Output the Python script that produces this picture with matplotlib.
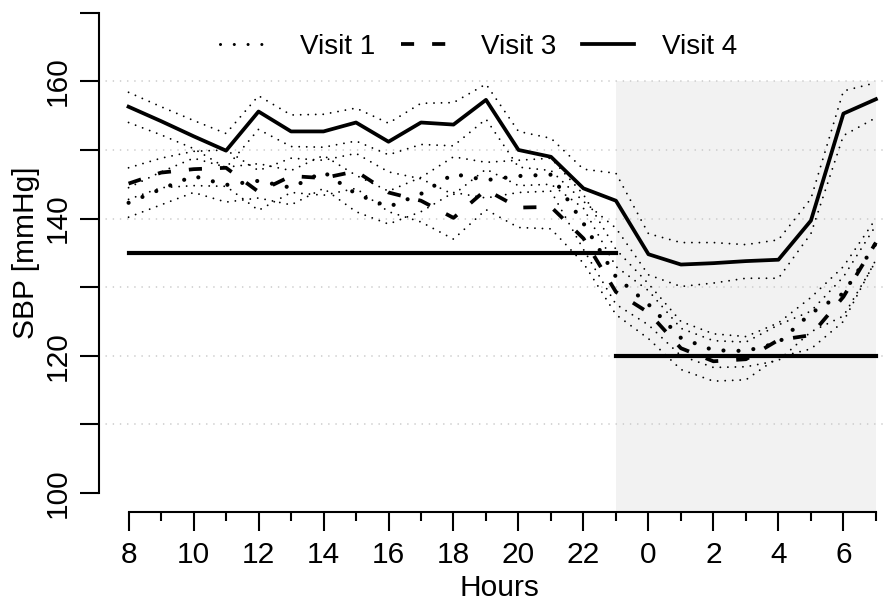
import matplotlib
matplotlib.use("Agg")
import matplotlib.pyplot as plt
from matplotlib.lines import Line2D

# hours 8..31 (24 = midnight)
hours = list(range(8, 32))
major_hours = list(range(8, 31, 2))
major_labels = ["8", "10", "12", "14", "16", "18", "20", "22", "0", "2", "4", "6"]
minor_hours = list(range(9, 32, 2))
ytick_values = list(range(100, 171, 10))
ytick_labels = ["100", "", "120", "", "140", "", "160", ""]
grid_levels = [110, 120, 130, 140, 150, 160]

night_start, night_end, shade_top = 23, 31, 160
day_target, night_target = 135, 120

v1_mean = [142.3, 144.3, 146.2, 144.9, 145.5, 144.5, 146.8, 143.6, 141.7, 143.6, 146.5, 145.6,
           146.2, 146.4, 139.3, 131.5, 127.5, 122.6, 120.8, 120.7, 121.9, 126.2, 129.1, 136.4]
v1_upper = [144.5, 146.8, 148.8, 147.5, 148.0, 147.0, 149.2, 146.3, 144.0, 146.0, 149.0, 148.2,
            148.5, 148.8, 143.5, 135.5, 130.5, 125.0, 123.2, 122.8, 124.8, 128.5, 133.0, 140.0]
v1_lower = [140.2, 142.0, 143.8, 142.4, 143.0, 142.0, 144.4, 141.0, 139.2, 141.0, 143.8, 143.0,
            143.8, 144.0, 135.5, 127.5, 124.5, 120.0, 118.3, 118.4, 119.3, 123.5, 125.8, 133.8]

v3_mean = [145.1, 146.7, 147.2, 147.4, 143.9, 146.2, 145.9, 146.9, 143.8, 142.6, 140.1, 144.2,
           141.6, 141.7, 137.1, 129.3, 126.3, 121.1, 119.2, 119.5, 122.3, 123.0, 128.6, 136.5]
v3_upper = [147.4, 148.8, 149.8, 150.0, 147.0, 148.8, 148.5, 149.5, 146.8, 145.8, 143.5, 147.2,
            144.8, 145.0, 141.5, 133.0, 129.5, 124.0, 122.2, 122.0, 124.5, 126.5, 131.5, 139.0]
v3_lower = [142.8, 144.5, 144.8, 144.7, 141.2, 143.8, 143.4, 144.4, 141.0, 139.5, 137.0, 141.3,
            138.7, 138.5, 133.5, 126.0, 122.5, 118.0, 116.3, 116.5, 119.8, 121.0, 125.0, 134.0]

v4_mean = [156.3, 154.2, 152.0, 149.9, 155.6, 152.7, 152.7, 154.0, 151.2, 154.0, 153.7, 157.3,
           150.0, 149.0, 144.4, 142.6, 134.8, 133.3, 133.5, 133.8, 134.0, 139.7, 155.3, 157.4]
v4_upper = [158.4, 156.3, 154.3, 152.4, 157.9, 155.1, 155.2, 156.1, 153.9, 156.8, 156.9, 159.6,
            152.7, 151.7, 147.2, 146.6, 137.8, 136.5, 136.5, 136.2, 136.9, 142.9, 158.6, 159.8]
v4_lower = [154.0, 152.2, 150.2, 147.4, 153.0, 150.5, 150.4, 151.3, 149.3, 150.8, 150.6, 154.5,
            147.5, 147.0, 142.5, 138.6, 131.8, 130.1, 130.6, 131.3, 131.3, 137.8, 152.1, 154.7]

plt.rcParams["font.family"] = ["Liberation Sans", "DejaVu Sans"]

fig = plt.figure(figsize=(8.9, 6.08), dpi=100)
ax = fig.add_axes([99 / 890, 96 / 608, 786 / 890, 502 / 608])
ax.set_xlim(7.09, 31.28)
ax.set_ylim(97.23, 170.4)

# night shading + dotted grid
ax.fill_between([night_start, night_end], ax.get_ylim()[0], shade_top,
                color="#f2f2f2", lw=0, zorder=0)
for g in grid_levels:
    ax.axhline(g, color="#c8c8c8", lw=1.2, ls=(0, (0.01, 4.3)),
               dash_capstyle="round", zorder=1)

ci_style = dict(color="black", lw=1.35, ls=(0, (0.01, 4.0)), dash_capstyle="round", zorder=2)
for band in (v1_upper, v1_lower, v3_upper, v3_lower, v4_upper, v4_lower):
    ax.plot(hours, band, **ci_style)

s1 = dict(color="black", lw=3, ls=(0, (0.01, 3.6)), dash_capstyle="round")
s3 = dict(color="black", lw=2.7, ls=(0, (3.5, 4.8)), dash_capstyle="butt")
s4 = dict(color="black", lw=2.7, ls="-")
ax.plot(hours, v1_mean, zorder=3, **s1)
ax.plot(hours, v3_mean, zorder=3, **s3)
ax.plot(hours, v4_mean, zorder=3, **s4)

ax.plot([hours[0], night_start], [day_target, day_target], color="black", lw=3, zorder=3)
ax.plot([night_start, night_end], [night_target, night_target], color="black", lw=3, zorder=3)

handles = [Line2D([], [], color="black", lw=2.2, ls=(0, (0.01, 4.5)), dash_capstyle="round"),
           Line2D([], [], **s3), Line2D([], [], **s4)]
ax.legend(handles, ["Visit 1", "Visit 3", "Visit 4"], loc="center",
          bbox_to_anchor=(0.483, 0.926), ncol=3, frameon=False, fontsize=20,
          handlelength=1.9, handletextpad=1.0, columnspacing=0.9)

for side in ("top", "right"):
    ax.spines[side].set_visible(False)
ax.spines["left"].set_bounds(100, 170)
ax.spines["bottom"].set_bounds(8, 31)
ax.spines["left"].set_linewidth(1.5)
ax.spines["bottom"].set_linewidth(1.5)

ax.set_yticks(ytick_values)
ax.set_yticklabels(ytick_labels, rotation=90, va="center")
ax.set_xticks(major_hours)
ax.set_xticklabels(major_labels)
ax.set_xticks(minor_hours, minor=True)
ax.tick_params(axis="y", length=13.7, width=1.5, pad=6, labelsize=21.5)
ax.tick_params(axis="x", which="major", length=13.7, width=1.5, pad=7, labelsize=21.5)
ax.tick_params(axis="x", which="minor", length=6.5, width=1.5)

ax.set_ylabel("SBP [mmHg]", fontsize=21.5, va="center")
ax.yaxis.set_label_coords(-0.093, 0.516)
ax.set_xlabel("Hours", fontsize=21.5, va="center")
ax.xaxis.set_label_coords(0.51, -0.151)

fig.savefig("out.png", dpi=100)
